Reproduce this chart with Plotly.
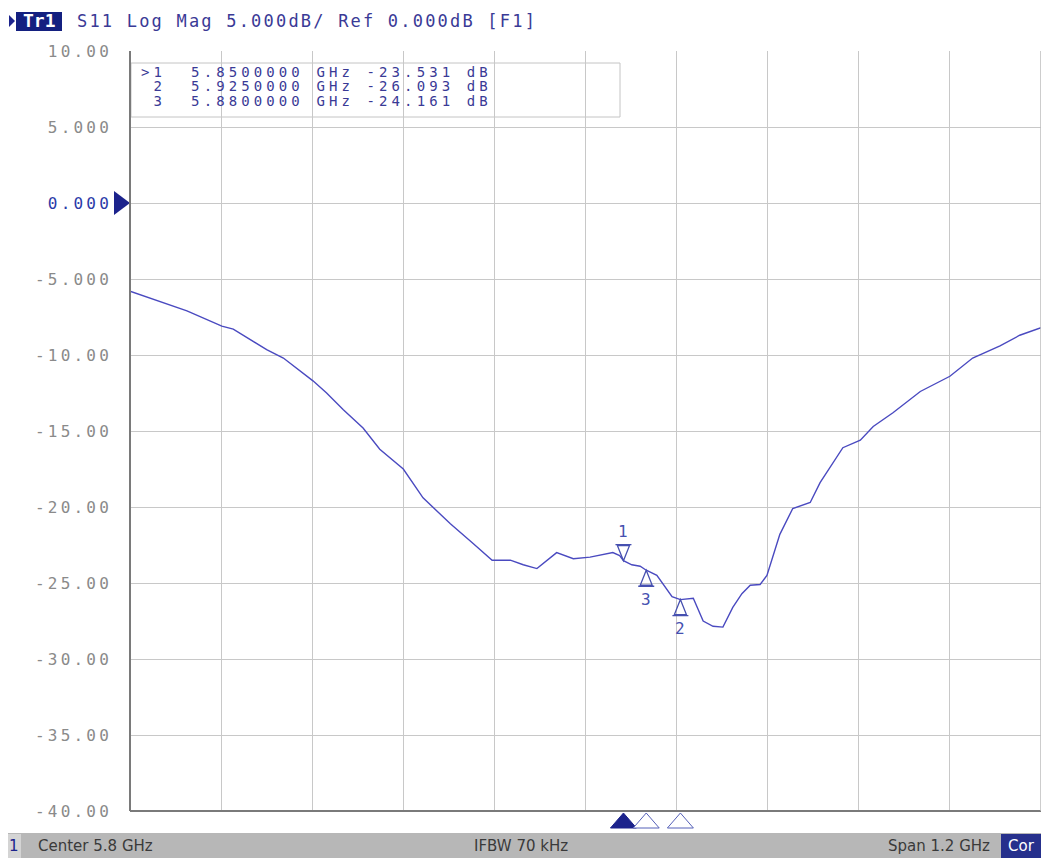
import plotly.graph_objects as go

# S11 sweep (GHz, dB)
FREQ_GHZ = [
    5.200, 5.230, 5.275, 5.321, 5.336, 5.380, 5.402, 5.441, 5.459, 5.481,
    5.507, 5.529, 5.560, 5.586, 5.622, 5.652, 5.677, 5.701, 5.718, 5.736,
    5.762, 5.784, 5.806, 5.836, 5.845, 5.850, 5.861, 5.872, 5.880, 5.894,
    5.914, 5.925, 5.942, 5.955, 5.968, 5.981, 5.994, 6.006, 6.017, 6.030,
    6.039, 6.056, 6.062, 6.073, 6.096, 6.109, 6.139, 6.162, 6.179, 6.205,
    6.241, 6.280, 6.310, 6.346, 6.372, 6.400,
]
S11_DB = [
    -5.8, -6.3, -7.1, -8.1, -8.3, -9.65, -10.2, -11.7, -12.5, -13.6,
    -14.8, -16.2, -17.5, -19.4, -21.1, -22.4, -23.5, -23.5, -23.8, -24.05,
    -23.0, -23.4, -23.3, -23.0, -23.2, -23.531, -23.8, -23.9, -24.161, -24.5,
    -25.9, -26.093, -26.0, -27.5, -27.85, -27.9, -26.6, -25.7, -25.15, -25.1,
    -24.5, -21.8, -21.2, -20.1, -19.7, -18.4, -16.1, -15.6, -14.7, -13.8,
    -12.4, -11.4, -10.2, -9.4, -8.7, -8.2,
]

MARKER_IDS = ["1", "2", "3"]
MARKER_FREQ = [5.850, 5.925, 5.880]
MARKER_DB = [-23.531, -26.093, -24.161]
MARKER_ABOVE = [True, False, False]

Y_TICKS = [10, 5, 0, -5, -10, -15, -20, -25, -30, -35, -40]
Y_TICK_LABELS = ["10.00", "5.000", "0.000", "-5.000", "-10.00",
                 "-15.00", "-20.00", "-25.00", "-30.00", "-35.00", "-40.00"]

START_GHZ, STOP_GHZ = 5.2, 6.4
REF_DB = 0.0
Y_MIN, Y_MAX = -40, 10

# page is 1049x858 but the body has an 8px margin, so the figure is shifted
OFF = 8
PAGE_W, PAGE_H = 1049, 858
PLOT_L, PLOT_R, PLOT_T, PLOT_B = 130, 1041, 51, 811
PW, PH = PLOT_R - PLOT_L, PLOT_B - PLOT_T
FW, FH = PAGE_W - OFF, PAGE_H - OFF

NAVY = "#1c238c"
TRACE = "#4a4ac0"
TEXT_BLUE = "#3a3a96"
MONO = "DejaVu Sans Mono"


def px(x):
    return (x - PLOT_L) / PW


def py(y):
    return (PLOT_B - y) / PH


def spaced(text, spacing, color=None):
    style = f"letter-spacing:{spacing}px"
    if color:
        style += f";color:{color}"
    return f"<span style='{style}'>{text.replace(' ', '&nbsp;')}</span>"


fig = go.Figure()
fig.add_trace(go.Scatter(x=FREQ_GHZ, y=S11_DB, mode="lines",
                         line=dict(color=TRACE, width=1.4), hoverinfo="skip"))

shapes = []
annotations = []

# markers on the trace
for mid, f, v, above in zip(MARKER_IDS, MARKER_FREQ, MARKER_DB, MARKER_ABOVE):
    s = 1 if above else -1
    path = f"M0,0 L-6,{15*s} L6,{15*s} Z M-8,{16*s} L8,{16*s}"
    shapes.append(dict(type="path", xref="x", yref="y", xsizemode="pixel", ysizemode="pixel",
                       xanchor=f, yanchor=v, path=path, line=dict(color="#4650b0", width=1.3)))
    annotations.append(dict(x=f, y=v, xref="x", yref="y", text=mid, showarrow=False,
                            yshift=29 * s, font=dict(family=MONO, size=16, color="#4650b0")))
    # marker flags under the graticule
    shapes.append(dict(type="path", xref="x", yref="paper", xsizemode="pixel", ysizemode="pixel",
                       xanchor=f, yanchor=0, path="M0,-2 L-13,-17 L13,-17 Z",
                       fillcolor=NAVY if mid == "1" else "white",
                       line=dict(color=NAVY if mid == "1" else "#5560b8", width=1)))

ref_frac = (REF_DB - Y_MIN) / (Y_MAX - Y_MIN)
shapes.append(dict(type="path", xref="paper", yref="paper", xsizemode="pixel", ysizemode="pixel",
                   xanchor=0, yanchor=ref_frac, path="M0,0 L-16,12 L-16,-12 Z",
                   fillcolor=NAVY, line=dict(color=NAVY, width=0)))
shapes.append(dict(type="path", xref="paper", yref="paper", xsizemode="pixel", ysizemode="pixel",
                   xanchor=1, yanchor=ref_frac, path="M1,0 L8,6 L8,-6 Z",
                   fillcolor=NAVY, line=dict(color=NAVY, width=0)))

# graticule frame
shapes.append(dict(type="line", xref="paper", yref="paper", x0=0, x1=0, y0=0, y1=1,
                   line=dict(color="#7a7a7a", width=2)))
shapes.append(dict(type="line", xref="paper", yref="paper", x0=0, x1=1, y0=0, y1=0,
                   line=dict(color="#7a7a7a", width=2)))
shapes.append(dict(type="line", xref="paper", yref="paper", x0=1, x1=1, y0=0, y1=1,
                   line=dict(color="#bdbdbd", width=1.5)))

# marker table frame
shapes.append(dict(type="rect", xref="paper", yref="paper", x0=px(131), x1=px(620), y0=py(117), y1=py(63),
                   line=dict(color="#c4c4c4", width=1), fillcolor="rgba(255,255,255,0.6)", layer="below"))

# status bar
shapes.append(dict(type="rect", xref="paper", yref="paper", x0=px(0), x1=px(PAGE_W), y0=py(PAGE_H), y1=py(833),
                   fillcolor="#b7b7b7", line=dict(width=0)))
shapes.append(dict(type="rect", xref="paper", yref="paper", x0=px(0), x1=px(21), y0=py(PAGE_H), y1=py(834),
                   fillcolor="#d4d4d4", line=dict(width=0)))
shapes.append(dict(type="rect", xref="paper", yref="paper", x0=px(1001), x1=px(1041), y0=py(PAGE_H), y1=py(834),
                   fillcolor="#26308c", line=dict(width=0)))

# header
shapes.append(dict(type="path", xref="paper", yref="paper",
                   path=f"M{px(9)},{py(15)} L{px(15)},{py(21)} L{px(9)},{py(27)} Z",
                   fillcolor=NAVY, line=dict(width=0)))
shapes.append(dict(type="rect", xref="paper", yref="paper", x0=px(16), x1=px(62), y0=py(31), y1=py(12),
                   fillcolor="#142080", line=dict(width=0)))
annotations.append(dict(x=px(39), y=py(21), xref="paper", yref="paper", xanchor="center", yanchor="middle",
                        text="<b>Tr1</b>", showarrow=False,
                        font=dict(family=MONO, size=18, color="white")))
annotations.append(dict(x=px(75), y=py(21), xref="paper", yref="paper", xanchor="left", yanchor="middle",
                        text=spaced("S11 Log Mag 5.000dB/ Ref 0.000dB [F1]", 2.2), showarrow=False,
                        font=dict(family=MONO, size=17, color=TEXT_BLUE)))

table_rows = [">1  5.8500000 GHz -23.531 dB",
              " 2  5.9250000 GHz -26.093 dB",
              " 3  5.8800000 GHz -24.161 dB"]
for i, row in enumerate(table_rows):
    annotations.append(dict(x=px(139), y=py(72 + 14.5 * i), xref="paper", yref="paper",
                            xanchor="left", yanchor="middle", text=spaced(row, 4.1),
                            showarrow=False, font=dict(family=MONO, size=14, color=TEXT_BLUE)))

status_font = dict(family="DejaVu Sans", size=15, color="#3a3a3a")
annotations.append(dict(x=px(14), y=py(846), xref="paper", yref="paper", xanchor="center", yanchor="middle",
                        text="1", showarrow=False, font=dict(family="DejaVu Sans", size=15, color=NAVY)))
annotations.append(dict(x=px(36), y=py(846), xref="paper", yref="paper", xanchor="left", yanchor="middle",
                        text="Center 5.8 GHz", showarrow=False, font=status_font))
annotations.append(dict(x=px(521), y=py(846), xref="paper", yref="paper", xanchor="center", yanchor="middle",
                        text="IFBW 70 kHz", showarrow=False, font=status_font))
annotations.append(dict(x=px(992), y=py(846), xref="paper", yref="paper", xanchor="right", yanchor="middle",
                        text="Span 1.2 GHz", showarrow=False, font=status_font))
annotations.append(dict(x=px(1021), y=py(846), xref="paper", yref="paper", xanchor="center", yanchor="middle",
                        text="Cor", showarrow=False, font=dict(family="DejaVu Sans", size=15, color="white")))

tick_text = [spaced(t, 3.2, "#2b3aa8" if v == REF_DB else None) for t, v in zip(Y_TICK_LABELS, Y_TICKS)]

fig.update_layout(
    width=FW, height=FH,
    margin=dict(l=PLOT_L - OFF, r=FW - (PLOT_R - OFF), t=PLOT_T - OFF, b=FH - (PLOT_B - OFF)),
    paper_bgcolor="white", plot_bgcolor="white",
    showlegend=False,
    shapes=shapes, annotations=annotations,
)
fig.update_xaxes(range=[START_GHZ, STOP_GHZ], tick0=START_GHZ, dtick=(STOP_GHZ - START_GHZ) / 10,
                 showticklabels=False, showgrid=True, gridcolor="#c8c8c8", gridwidth=1,
                 zeroline=False, showline=False, ticks="")
fig.update_yaxes(range=[Y_MIN, Y_MAX], tickvals=Y_TICKS, ticktext=tick_text,
                 showgrid=True, gridcolor="#c8c8c8", gridwidth=1, zeroline=False, showline=False,
                 ticks="", ticklabelstandoff=17,
                 tickfont=dict(family=MONO, size=16, color="#8a8a8a"))

fig.write_html("out.html")
